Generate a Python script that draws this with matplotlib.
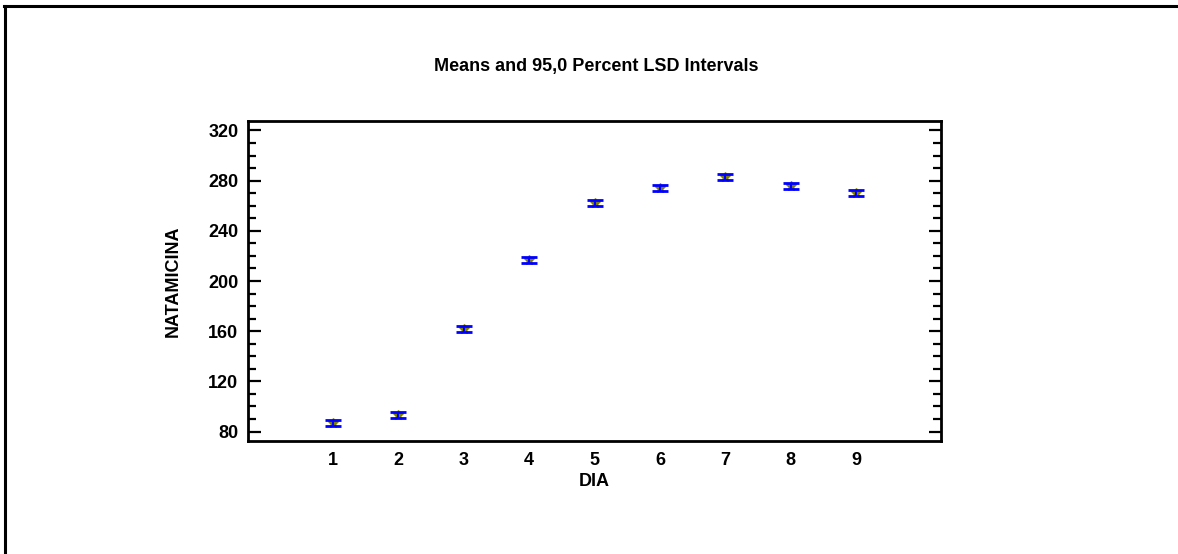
import numpy as np
import matplotlib
matplotlib.use("Agg")
import matplotlib.pyplot as plt
from matplotlib.lines import Line2D
from matplotlib.ticker import MultipleLocator

plt.rcParams['font.family'] = ['Liberation Sans', 'DejaVu Sans']

# data
dia = [1, 2, 3, 4, 5, 6, 7, 8, 9]
means = [87.0, 93.5, 162.0, 217.0, 262.0, 274.0, 283.0, 275.5, 270.0]
half_lsd = [2.3, 2.3, 2.3, 2.3, 2.3, 2.3, 2.3, 2.3, 2.3]
yticks = [80, 120, 160, 200, 240, 280, 320]

fig = plt.figure(figsize=(11.78, 5.54), dpi=100)
W, H = 1178, 554
ax = fig.add_axes([248 / W, 1 - 441 / H, (941 - 248) / W, (441 - 121) / H])

# means (olive) under the blue LSD intervals
ax.plot(dia, means, linestyle='none', marker='*', markersize=7,
        color='#808000', zorder=2)
ax.errorbar(dia, means, yerr=half_lsd, fmt='none', ecolor='#0000ff',
            elinewidth=1.5, capsize=5.5, capthick=2, zorder=3)

ax.set_xlim(-0.3, 10.3)
ax.set_ylim(72.5, 327.5)
ax.set_xticks(dia)
ax.set_yticks(yticks)
ax.yaxis.set_minor_locator(MultipleLocator(10))
ax.tick_params(axis='x', length=0, pad=8, labelsize=13)
ax.tick_params(axis='y', which='major', direction='in', length=9, width=1.6,
               right=True, labelsize=13, pad=7)
ax.tick_params(axis='y', which='minor', direction='in', length=6, width=1.6,
               right=True)
for lab in ax.get_xticklabels() + ax.get_yticklabels():
    lab.set_fontweight('bold')
for sp in ax.spines.values():
    sp.set_linewidth(2)

ax.set_xlabel('DIA', fontsize=13, fontweight='bold', labelpad=3)
ax.set_ylabel('NATAMICINA', fontsize=13, fontweight='bold', labelpad=19)
fig.text(596 / W, 1 - 66 / H, 'Means and 95,0 Percent LSD Intervals',
         ha='center', va='center', fontsize=13, fontweight='bold')

# outer frame (left and top edges)
fig.add_artist(Line2D([5 / W, 5 / W], [0, 1 - 6 / H], color='black',
                      linewidth=2.2, transform=fig.transFigure))
fig.add_artist(Line2D([4 / W, 1], [1 - 6 / H, 1 - 6 / H], color='black',
                      linewidth=2.2, transform=fig.transFigure))

fig.savefig('out.png', dpi=100)
